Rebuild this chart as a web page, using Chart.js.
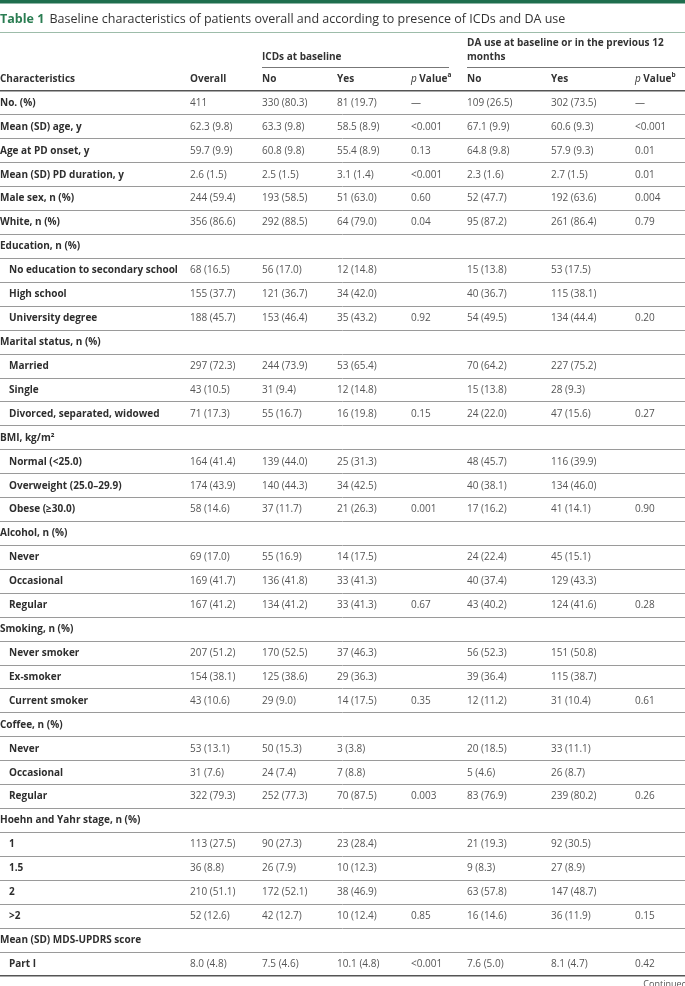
<!DOCTYPE html>
<html>
<head>
<meta charset="utf-8">
<script src="https://cdn.jsdelivr.net/npm/chart.js@4.4.1/dist/chart.umd.min.js"></script>
<style>
  html, body { margin: 0; padding: 0; background: #fff; }
  #wrap { position: relative; width: 685px; height: 986px; }
</style>
</head>
<body>
<div id="wrap"><canvas id="tableChart"></canvas></div>
<script>
// table data
const rowLabels = ['No. (%)', 'Mean (SD) age, y', 'Age at PD onset, y', 'Mean (SD) PD duration, y', 'Male sex, n (%)', 'White, n (%)',
  'Education, n (%)', 'No education to secondary school', 'High school', 'University degree',
  'Marital status, n (%)', 'Married', 'Single', 'Divorced, separated, widowed',
  'BMI, kg/m²', 'Normal (<25.0)', 'Overweight (25.0–29.9)', 'Obese (≥30.0)',
  'Alcohol, n (%)', 'Never', 'Occasional', 'Regular',
  'Smoking, n (%)', 'Never smoker', 'Ex-smoker', 'Current smoker',
  'Coffee, n (%)', 'Never', 'Occasional', 'Regular',
  'Hoehn and Yahr stage, n (%)', '1', '1.5', '2', '>2',
  'Mean (SD) MDS-UPDRS score', 'Part I'];
// 1 = sub-item of the section above
const rowLevel = [0,0,0,0,0,0, 0,1,1,1, 0,1,1,1, 0,1,1,1, 0,1,1,1, 0,1,1,1, 0,1,1,1, 0,1,1,1,1, 0,1];

const overall = ['411','62.3 (9.8)','59.7 (9.9)','2.6 (1.5)','244 (59.4)','356 (86.6)', '','68 (16.5)','155 (37.7)','188 (45.7)',
  '','297 (72.3)','43 (10.5)','71 (17.3)', '','164 (41.4)','174 (43.9)','58 (14.6)', '','69 (17.0)','169 (41.7)','167 (41.2)',
  '','207 (51.2)','154 (38.1)','43 (10.6)', '','53 (13.1)','31 (7.6)','322 (79.3)', '','113 (27.5)','36 (8.8)','210 (51.1)','52 (12.6)', '','8.0 (4.8)'];
const icdNo = ['330 (80.3)','63.3 (9.8)','60.8 (9.8)','2.5 (1.5)','193 (58.5)','292 (88.5)', '','56 (17.0)','121 (36.7)','153 (46.4)',
  '','244 (73.9)','31 (9.4)','55 (16.7)', '','139 (44.0)','140 (44.3)','37 (11.7)', '','55 (16.9)','136 (41.8)','134 (41.2)',
  '','170 (52.5)','125 (38.6)','29 (9.0)', '','50 (15.3)','24 (7.4)','252 (77.3)', '','90 (27.3)','26 (7.9)','172 (52.1)','42 (12.7)', '','7.5 (4.6)'];
const icdYes = ['81 (19.7)','58.5 (8.9)','55.4 (8.9)','3.1 (1.4)','51 (63.0)','64 (79.0)', '','12 (14.8)','34 (42.0)','35 (43.2)',
  '','53 (65.4)','12 (14.8)','16 (19.8)', '','25 (31.3)','34 (42.5)','21 (26.3)', '','14 (17.5)','33 (41.3)','33 (41.3)',
  '','37 (46.3)','29 (36.3)','14 (17.5)', '','3 (3.8)','7 (8.8)','70 (87.5)', '','23 (28.4)','10 (12.3)','38 (46.9)','10 (12.4)', '','10.1 (4.8)'];
const icdP = ['—','<0.001','0.13','<0.001','0.60','0.04', '','','','0.92', '','','','0.15', '','','','0.001', '','','','0.67',
  '','','','0.35', '','','','0.003', '','','','','0.85', '','<0.001'];
const daNo = ['109 (26.5)','67.1 (9.9)','64.8 (9.8)','2.3 (1.6)','52 (47.7)','95 (87.2)', '','15 (13.8)','40 (36.7)','54 (49.5)',
  '','70 (64.2)','15 (13.8)','24 (22.0)', '','48 (45.7)','40 (38.1)','17 (16.2)', '','24 (22.4)','40 (37.4)','43 (40.2)',
  '','56 (52.3)','39 (36.4)','12 (11.2)', '','20 (18.5)','5 (4.6)','83 (76.9)', '','21 (19.3)','9 (8.3)','63 (57.8)','16 (14.6)', '','7.6 (5.0)'];
const daYes = ['302 (73.5)','60.6 (9.3)','57.9 (9.3)','2.7 (1.5)','192 (63.6)','261 (86.4)', '','53 (17.5)','115 (38.1)','134 (44.4)',
  '','227 (75.2)','28 (9.3)','47 (15.6)', '','116 (39.9)','134 (46.0)','41 (14.1)', '','45 (15.1)','129 (43.3)','124 (41.6)',
  '','151 (50.8)','115 (38.7)','31 (10.4)', '','33 (11.1)','26 (8.7)','239 (80.2)', '','92 (30.5)','27 (8.9)','147 (48.7)','36 (11.9)', '','8.1 (4.7)'];
const daP = ['—','<0.001','0.01','0.01','0.004','0.79', '','','','0.20', '','','','0.27', '','','','0.90', '','','','0.28',
  '','','','0.61', '','','','0.26', '','','','','0.15', '','0.42'];

const titleNo = 'Table 1';
const titleText = 'Baseline characteristics of patients overall and according to presence of ICDs and DA use';
const groupHeads = ['ICDs at baseline', 'DA use at baseline or in the previous 12 months'];
const colHeads = ['Characteristics', 'Overall', 'No', 'Yes', 'p Value|a', 'No', 'Yes', 'p Value|b'];

// layout (table units = px across)
const colX = [0, 190, 262, 337, 411, 467, 551, 635];
const valueCols = [overall, icdNo, icdYes, icdP, daNo, daYes, daP];
const FONT = '"Open Sans", "Noto Sans", sans-serif';
const GREEN = '#1f6e4e';

function richText(ctx, x, y, parts) {
  parts.forEach(p => {
    ctx.font = p.font;
    ctx.fillText(p.t, x, y + (p.dy || 0));
    x += ctx.measureText(p.t).width;
  });
}

function headLabel(ctx, text, x, y) {
  if (text.indexOf('|') < 0) {
    ctx.font = 'bold 10px ' + FONT;
    ctx.fillText(text, x, y);
    return;
  }
  const [main, sup] = text.split('|');
  const word = main.replace(/^p /, '');
  richText(ctx, x, y, [
    { t: 'p ', font: 'italic 10px ' + FONT },
    { t: word, font: 'bold 10px ' + FONT },
    { t: sup, font: 'bold 6.5px ' + FONT, dy: -4 }
  ]);
}

const tablePlugin = {
  id: 'tableText',
  afterDraw(chart) {
    const ctx = chart.ctx;
    const xs = chart.scales.x, ys = chart.scales.y;
    const W = chart.width;
    ctx.save();
    ctx.textBaseline = 'middle';
    ctx.textAlign = 'left';

    // top bar and title
    ctx.fillStyle = GREEN;
    ctx.fillRect(0, 0, W, 3.5);
    ctx.fillStyle = '#2a7d52';
    ctx.font = 'bold 12.5px ' + FONT;
    ctx.fillText(titleNo, 0, 19);
    const tw = ctx.measureText(titleNo + ' ').width + 2;
    ctx.fillStyle = '#333';
    ctx.font = '12.5px ' + FONT;
    ctx.fillText(titleText, tw, 19);
    ctx.fillStyle = '#9dbcaa';
    ctx.fillRect(0, 32, W, 1);

    // group headers
    ctx.fillStyle = '#333';
    ctx.font = 'bold 10px ' + FONT;
    const gx1 = xs.getPixelForValue(colX[2]);
    const gx2 = xs.getPixelForValue(colX[5]);
    ctx.fillText(groupHeads[0], gx1, 57);
    // wrap the second group header
    const words = groupHeads[1].split(' ');
    const lines = [];
    let line = '';
    words.forEach(w => {
      const test = line ? line + ' ' + w : w;
      if (ctx.measureText(test).width > W - gx2 && line) { lines.push(line); line = w; }
      else line = test;
    });
    lines.push(line);
    lines.forEach((l, i) => ctx.fillText(l, gx2, 57 - (lines.length - 1 - i) * 13.5));
    ctx.fillStyle = '#777';
    ctx.fillRect(gx1, 67, gx2 - 18 - gx1, 1);
    ctx.fillRect(gx2, 67, W - gx2, 1);

    // column headers
    ctx.fillStyle = '#333';
    colHeads.forEach((h, j) => headLabel(ctx, h, xs.getPixelForValue(colX[j]), 79));

    // rows
    rowLabels.forEach((lab, i) => {
      const y = ys.getPixelForValue(i);
      ctx.fillStyle = '#2e2e2e';
      ctx.font = 'bold 10px ' + FONT;
      ctx.fillText(lab, xs.getPixelForValue(colX[0]) + rowLevel[i] * 9, y);
      ctx.fillStyle = '#555';
      ctx.font = '10px ' + FONT;
      valueCols.forEach((col, j) => {
        if (col[i]) ctx.fillText(col[i], xs.getPixelForValue(colX[j + 1]), y);
      });
    });

    // continued note
    ctx.fillStyle = '#555';
    ctx.font = '9px ' + FONT;
    ctx.textAlign = 'right';
    ctx.fillText('Continued', W + 2, 984);
    ctx.restore();
  }
};

new Chart(document.getElementById('tableChart'), {
  type: 'scatter',
  data: {
    labels: rowLabels,
    datasets: [{ data: [] }]
  },
  options: {
    responsive: true,
    maintainAspectRatio: false,
    animation: false,
    layout: { padding: { top: 91, bottom: 10, left: 0, right: 0 } },
    plugins: { legend: { display: false }, tooltip: { enabled: false } },
    scales: {
      x: { type: 'linear', min: 0, max: 685, display: false },
      y: {
        type: 'category',
        labels: rowLabels,
        offset: true,
        ticks: { display: false },
        border: { display: false },
        grid: {
          offset: true,
          drawTicks: false,
          tickLength: 0,
          color: c => (c.index === 0 || c.index === undefined) ? '#555' : '#9a9a9a',
          lineWidth: c => (c.index === 0 || c.index === undefined) ? 1.5 : 1
        },
        afterFit: s => { s.width = 0; }
      }
    }
  },
  plugins: [tablePlugin]
});
</script>
</body>
</html>
